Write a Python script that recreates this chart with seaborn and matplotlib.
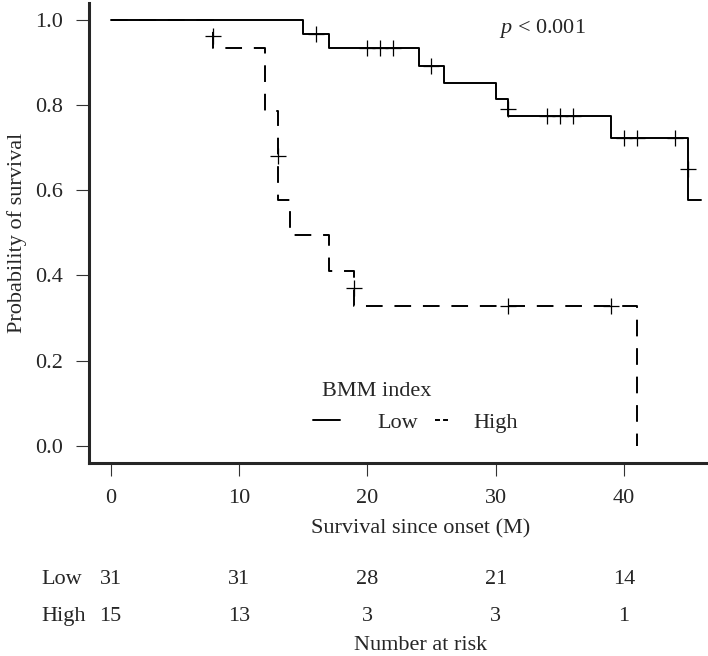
import numpy as np
import pandas as pd
import seaborn as sns
import matplotlib.pyplot as plt
from matplotlib.lines import Line2D
from matplotlib.legend_handler import HandlerLine2D
from matplotlib.transforms import blended_transform_factory

# Kaplan-Meier steps (time in months, survival)
low_time = [0, 15, 17, 24, 26, 30, 31, 39, 45, 46]
low_surv = [1.0, 0.968, 0.935, 0.892, 0.853, 0.815, 0.774, 0.722, 0.578, 0.578]
high_time = [0, 8, 12, 13, 14, 17, 19, 41]
high_surv = [1.0, 0.933, 0.787, 0.578, 0.494, 0.410, 0.328, 0.0]

# censored observations (+ marks)
low_cens_time = [16, 20, 21, 22, 25, 31, 34, 35, 36, 40, 41, 44, 45]
low_cens_surv = [0.968, 0.935, 0.935, 0.935, 0.892, 0.792, 0.774, 0.774, 0.774, 0.722, 0.722, 0.722, 0.651]
high_cens_time = [8, 13, 19, 31, 39]
high_cens_surv = [0.962, 0.681, 0.370, 0.328, 0.328]

# number at risk table
risk_times = [0, 10, 20, 30, 40]
risk_low = [31, 31, 28, 21, 14]
risk_high = [15, 13, 3, 3, 1]

groups = ['Low', 'High']

sns.set_style('ticks')
plt.rcParams['font.family'] = ['Liberation Serif', 'DejaVu Serif']
plt.rcParams['font.size'] = 16
plt.rcParams['mathtext.fontset'] = 'custom'
plt.rcParams['mathtext.rm'] = 'Liberation Serif'
plt.rcParams['mathtext.it'] = 'Liberation Serif:italic'
plt.rcParams['lines.scale_dashes'] = False

curves = pd.DataFrame({
    'time': low_time + high_time,
    'surv': low_surv + high_surv,
    'group': ['Low'] * len(low_time) + ['High'] * len(high_time),
})
cens = pd.DataFrame({
    'time': low_cens_time + high_cens_time,
    'surv': low_cens_surv + high_cens_surv,
    'group': ['Low'] * len(low_cens_time) + ['High'] * len(high_cens_time),
})

fig = plt.figure(figsize=(7.08, 6.56), dpi=100)
ax = fig.add_axes([0.1261, 0.2947, 0.9346, 0.7008])

sns.lineplot(data=curves, x='time', y='surv', hue='group', style='group',
             palette={'Low': 'black', 'High': 'black'},
             dashes={'Low': '', 'High': (12, 8.5)},
             drawstyle='steps-post', estimator=None, sort=False,
             linewidth=1.4, legend=False, ax=ax)
sns.scatterplot(data=cens, x='time', y='surv', marker='+', s=117,
                color='black', linewidth=0.9, legend=False, ax=ax, zorder=3)

ax.set_xlim(-1.67, 49.9)
ax.set_ylim(-0.04, 1.04)
ax.set_xticks(risk_times)
ax.set_yticks(np.arange(0, 1.01, 0.2))
ax.set_yticklabels([f'{v:.1f}' for v in np.arange(0, 1.01, 0.2)])
sns.despine(ax=ax)
for side in ['left', 'bottom']:
    ax.spines[side].set_linewidth(2.2)
ax.tick_params(axis='both', length=9.7, width=0.8, color='#333333', labelsize=16)
ax.tick_params(axis='x', pad=9)
ax.tick_params(axis='y', pad=9.4)

ax.set_xlabel('Survival since onset (M)', fontsize=16, va='center')
ax.xaxis.set_label_coords(0.5, -0.144)
ax.set_ylabel('Probability of survival', fontsize=16, va='center')
ax.yaxis.set_label_coords(-0.109, 0.5)

ax.text(30.3, 0.969, r'$\mathit{p}$ < 0.001', fontsize=16, ha='left', va='baseline')


# legend handles drawn at their own offset inside the handle box
class OffsetLine(HandlerLine2D):
    def __init__(self, start, stop, **kw):
        super().__init__(**kw)
        self.start = start
        self.stop = stop

    def create_artists(self, legend, orig_handle, xdescent, ydescent,
                       width, height, fontsize, trans):
        y = height / 2 - ydescent
        line = Line2D([self.start * width - xdescent, self.stop * width - xdescent], [y, y])
        self.update_prop(line, orig_handle, legend)
        line.set_transform(trans)
        return [line]


h_low = Line2D([], [], color='black', linewidth=1.4)
h_high = Line2D([], [], color='black', linewidth=1.4, dashes=(3.6, 2.2, 3.6, 30))
leg = ax.legend([h_low, h_high], groups, title='BMM index', ncol=2, frameon=False,
                handlelength=2.29, handletextpad=0.2, columnspacing=0.0,
                borderpad=0, borderaxespad=0, alignment='left',
                fontsize=16, title_fontsize=16,
                loc='upper left', bbox_to_anchor=(321.7 / 708, 1 - 382 / 656),
                bbox_transform=fig.transFigure,
                handler_map={h_low: OffsetLine(-0.17, 0.366),
                             h_high: OffsetLine(0.34, 0.60)})

# number at risk table below the axis
tr = blended_transform_factory(ax.transData, fig.transFigure)
row_y = [0.116, 0.0595]
for g, counts, yy in zip(groups, [risk_low, risk_high], row_y):
    fig.text(0.0589, yy, g, ha='left', va='center', fontsize=16)
    for t, n in zip(risk_times, counts):
        ax.text(t, yy, str(n), transform=tr, ha='center', va='center', fontsize=16)
ax.text(0.5, 0.016, 'Number at risk', ha='center', va='center', fontsize=16,
        transform=blended_transform_factory(ax.transAxes, fig.transFigure))

fig.savefig('out.png', dpi=100)
